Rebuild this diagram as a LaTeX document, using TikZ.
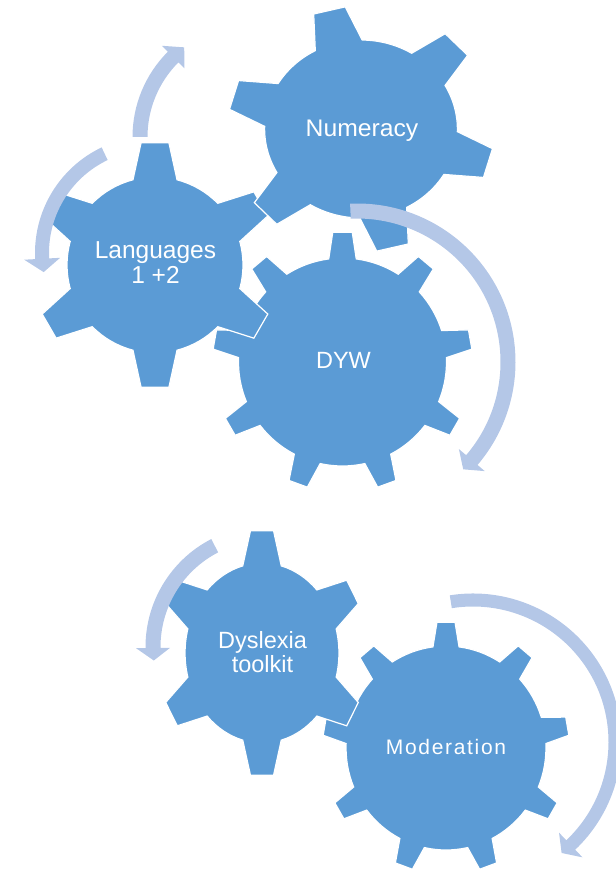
\documentclass[tikz,border=0pt]{standalone}
\usepackage{fontspec}
\setmainfont{Liberation Sans}
\definecolor{gearblue}{HTML}{5B9BD5}
\definecolor{arrowblue}{HTML}{B4C7E7}
\tikzset{
  gearfill/.style={fill=gearblue, draw=white, line width=1.2pt, line join=miter},
  arrowfill/.style={fill=arrowblue},
  gtext/.style={text=white, inner sep=0pt, font=\fontsize{23.5}{24.5}\selectfont}
}
% #1 cx, #2 cy, #3 tip radius, #4 body radius, #5 teeth, #6 rotation, #7 tip half-angle, #8 base half-angle, #9 xscale
\newcommand{\drawgear}[9]{%
  \begin{scope}[shift={(#1,#2)}, xscale=#9, yscale=-1]
    \pgfmathsetmacro\gstep{360/#5}
    \pgfmathtruncatemacro\glast{#5-1}
    \path[gearfill]
      ({#6-#8}:#4)
      \foreach \k in {0,...,\glast}{
        -- ({#6+\k*\gstep-#7}:#3) -- ({#6+\k*\gstep+#7}:#3) -- ({#6+\k*\gstep+#8}:#4)
        arc[start angle={#6+\k*\gstep+#8}, end angle={#6+(\k+1)*\gstep-#8}, radius=#4]
      } -- cycle;
  \end{scope}}
% #1 cx, #2 cy, #3 mid radius, #4 width, #5 start angle, #6 end angle, #7 head half-width, #8 head angle
\newcommand{\circarrow}[8]{%
  \begin{scope}[shift={(#1,#2)}, yscale=-1]
    \pgfmathsetmacro\aro{#3+#4/2}
    \pgfmathsetmacro\ari{#3-#4/2}
    \pgfmathsetmacro\aho{#3+#7}
    \pgfmathsetmacro\ahi{#3-#7}
    \pgfmathsetmacro\atip{#6+#8}
    \path[arrowfill]
      (#5:\aro) arc[start angle=#5, end angle=#6, radius=\aro]
      -- (#6:\aho) -- (\atip:#3) -- (#6:\ahi) -- (#6:\ari)
      arc[start angle=#6, end angle=#5, radius=\ari] -- cycle;
  \end{scope}}
\begin{document}
\begin{tikzpicture}[x=1pt,y=-1pt]
\useasboundingbox (0,0) rectangle (615,869);
% gears (back to front)
\drawgear{342.5}{362}{130}{104}{9}{90}{4.3}{7.6}{1}
\drawgear{155}{265}{123}{88}{6}{90}{6.5}{14.5}{1}
\drawgear{361}{129}{123}{89}{6}{103.8}{7}{14.5}{1.083}
\drawgear{446}{748}{126}{102}{9}{90}{4.2}{7.5}{0.98}
\drawgear{262}{653}{123}{90}{6}{90}{6.3}{14.5}{0.855}
% circular arrows
\circarrow{357}{362}{151}{15}{92.5}{-40.5}{17}{-4.8}
\circarrow{152}{253}{110}{14}{115.5}{183}{18}{7}
\circarrow{253}{137}{113}{15}{180}{135}{16}{-7.5}
\circarrow{267}{647}{114}{15}{117.3}{180.5}{17}{6.3}
\circarrow{473}{742}{142}{13}{99}{-46.5}{17}{-4.9}
% labels
\node[gtext, font=\fontsize{24}{26}\selectfont, anchor=base, xscale=1.03] (numeracy) at (362,137) {Numeracy};
\node[gtext, anchor=base] (dyw) at (343.5,368) {DYW};
\node[gtext, font=\fontsize{24.5}{24.5}\selectfont, align=center] (lang) at (155.5,262.6) {Languages\\1 +2};
\node[gtext, align=center] (dys) at (262.5,652) {Dyslexia\\toolkit};
\node[gtext, font=\fontsize{21}{23}\selectfont\addfontfeature{LetterSpace=8}, anchor=base] (mod) at (446,754) {Moderation};
\end{tikzpicture}
\end{document}
